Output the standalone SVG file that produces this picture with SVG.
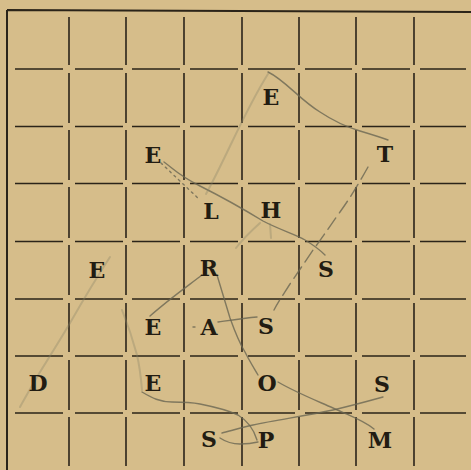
<svg xmlns="http://www.w3.org/2000/svg" width="471" height="470" viewBox="0 0 471 470">
<style>
.bg{fill:#d6bd8a}
.border{stroke:#2b2419;stroke-width:2;fill:none}
.grid{stroke:#2b2419;stroke-width:1.6;fill:none}
.pen{stroke:#6a6652;stroke-width:1.4;fill:none;stroke-linecap:round;stroke-linejoin:round;opacity:0.8}
.faint{stroke:#8a8468;stroke-width:2;fill:none;stroke-linecap:round;opacity:0.35}
.dash{stroke-dasharray:14 6}
.dot{stroke-dasharray:2 4}
text{font-family:"DejaVu Serif","Liberation Serif",serif;font-size:22px;font-weight:bold;fill:#221c12;text-anchor:middle}
</style>
<rect class="bg" x="0" y="0" width="471" height="470"/>
<g id="grid">
<path class="border" d="M7,10 L471,12 M7,10 L7,470"/>
<path class="grid" d="
M15,69 H63 M75,69 H123 M132,69 H180 M190,69 H238 M248,69 H295 M305,69 H352 M362,69 H410 M420,69 H466
M15,126.5 H63 M75,126.5 H123 M132,126.5 H180 M190,126.5 H238 M248,126.5 H295 M305,126.5 H352 M362,126.5 H410 M420,126.5 H466
M15,183.5 H63 M75,183.5 H123 M132,183.5 H180 M190,183.5 H238 M248,183.5 H295 M305,183.5 H352 M362,183.5 H410 M420,183.5 H466
M15,241.5 H63 M75,241.5 H123 M132,241.5 H180 M190,241.5 H238 M248,241.5 H295 M305,241.5 H352 M362,241.5 H410 M420,241.5 H466
M15,299 H63 M75,299 H123 M132,299 H180 M190,299 H238 M248,299 H295 M305,299 H352 M362,299 H410 M420,299 H466
M15,356 H63 M75,356 H123 M132,356 H180 M190,356 H238 M248,356 H295 M305,356 H352 M362,356 H410 M420,356 H466
M15,413 H63 M75,413 H123 M132,413 H180 M190,413 H238 M248,413 H295 M305,413 H352 M362,413 H410 M420,413 H466
M69,17 V65 M69,73 V123 M69,130 V180 M69,187 V238 M69,245 V295 M69,303 V352 M69,360 V410 M69,417 V466
M126,17 V65 M126,73 V123 M126,130 V180 M126,187 V238 M126,245 V295 M126,303 V352 M126,360 V410 M126,417 V466
M184,17 V65 M184,73 V123 M184,130 V180 M184,187 V238 M184,245 V295 M184,303 V352 M184,360 V410 M184,417 V466
M242,17 V65 M242,73 V123 M242,130 V180 M242,187 V238 M242,245 V295 M242,303 V352 M242,360 V410 M242,417 V466
M299,17 V65 M299,73 V123 M299,130 V180 M299,187 V238 M299,245 V295 M299,303 V352 M299,360 V410 M299,417 V466
M356,17 V65 M356,73 V123 M356,130 V180 M356,187 V238 M356,245 V295 M356,303 V352 M356,360 V410 M356,417 V466
M414,17 V65 M414,73 V123 M414,130 V180 M414,187 V238 M414,245 V295 M414,303 V352 M414,360 V410 M414,417 V466"/>
</g>
<g id="connectors">
<path class="pen dot" d="M161,163 L200,200"/>
<path class="pen" d="M164,162 C175,170 178,175 200,186 C220,196 240,207 263,221 C280,230 295,234 305,240 C315,246 320,250 325,255"/>
<path class="faint" d="M206,194 C225,160 245,110 268,74"/>
<path class="pen" d="M268,72 C285,80 300,100 320,112 C335,122 350,128 360,131 C370,134 380,137 388,140"/>
<path class="pen dash" d="M368,167 C358,185 350,198 340,212 C330,226 322,238 313,250 C305,262 298,272 290,284 C283,295 278,302 274,310"/>
<path class="faint" d="M260,223 C250,232 242,240 236,248"/>
<path class="faint" d="M270,224 L271,238"/>
<path class="pen" d="M202,275 C185,288 168,300 150,316"/>
<path class="pen" d="M217,275 C222,292 226,305 230,318 C235,332 240,344 245,352 C250,362 254,368 258,375"/>
<path class="pen" d="M193,327 L195,327 M218,322 C232,320 245,318 257,317"/>
<path class="pen" d="M278,382 C295,392 315,400 333,408 C350,416 363,420 374,429"/>
<path class="pen" d="M383,397 C365,402 350,406 333,410 C305,416 275,420 253,425 C240,428 230,431 222,433"/>
<path class="pen" d="M220,438 C226,442 232,444 240,444 C248,444 254,443 258,442"/>
<path class="pen" d="M142,392 C152,398 160,402 172,402 C182,402 190,402 200,404 C215,407 228,410 238,415 C248,421 254,430 257,440"/>
<path class="faint" d="M142,390 C141,378 140,368 137,355 C133,340 128,325 122,310"/>
<path class="faint" d="M110,257 C95,280 82,302 70,323 C60,340 50,356 40,372 C33,384 26,396 20,407"/>
</g>
<g id="n-E1"><text x="271" y="105">E</text></g>
<g id="n-T"><text x="385" y="162">T</text></g>
<g id="n-E2"><text x="153" y="163">E</text></g>
<g id="n-L"><text x="211" y="219">L</text></g>
<g id="n-H"><text x="271" y="218">H</text></g>
<g id="n-E3"><text x="97" y="278">E</text></g>
<g id="n-R"><text x="209" y="276">R</text></g>
<g id="n-S1"><text x="326" y="277">S</text></g>
<g id="n-E4"><text x="153" y="335">E</text></g>
<g id="n-A"><text x="209" y="335">A</text></g>
<g id="n-S2"><text x="266" y="334">S</text></g>
<g id="n-D"><text x="38" y="391">D</text></g>
<g id="n-E5"><text x="153" y="391">E</text></g>
<g id="n-O"><text x="267" y="391">O</text></g>
<g id="n-S3"><text x="382" y="392">S</text></g>
<g id="n-S4"><text x="209" y="447">S</text></g>
<g id="n-P"><text x="266" y="448">P</text></g>
<g id="n-M"><text x="380" y="448">M</text></g>
</svg>
